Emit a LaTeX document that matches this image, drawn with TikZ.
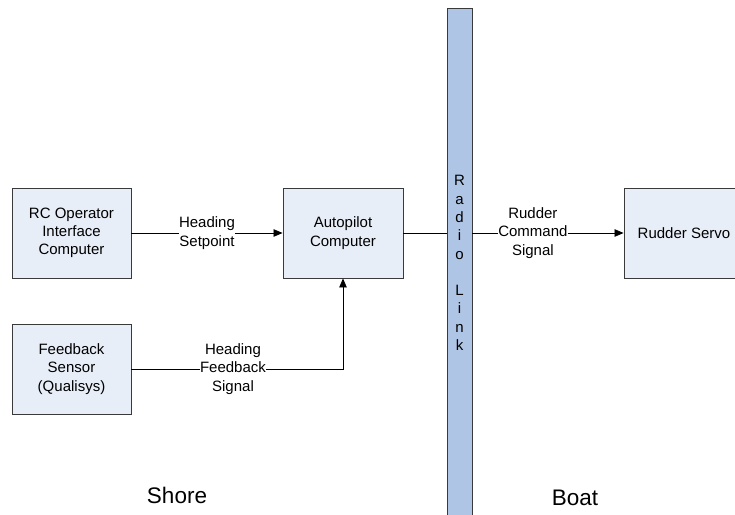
\documentclass[tikz,border=0pt]{standalone}
\usepackage{fontspec}
\setmainfont{Liberation Sans}
\usetikzlibrary{arrows.meta}
\definecolor{boxfill}{HTML}{E8EEF8}
\definecolor{barfill}{HTML}{AFC5E6}
\definecolor{edgecol}{HTML}{3A3A3A}
\newcommand{\fsnorm}{\fontsize{15}{18.3}\selectfont}
\newcommand{\fsbig}{\fontsize{22.5}{27}\selectfont}
\begin{document}
\begin{tikzpicture}[x=1pt,y=-1pt,
  blk/.style={draw=edgecol, fill=boxfill, line width=0.9pt, inner sep=0pt, align=center, font=\fsnorm, minimum width=119pt, minimum height=90pt},
  barstyle/.style={draw=edgecol, fill=barfill, line width=0.9pt, inner sep=0pt, minimum width=25pt, minimum height=520pt},
  bartext/.style={inner sep=0pt, align=center, font=\fsnorm},
  lbl/.style={fill=white, inner sep=0.5pt, align=center, font=\fsnorm},
  conn/.style={line width=0.8pt, draw=black},
  arr/.style={-{Triangle[length=9pt,width=7.5pt]}},
  region/.style={font=\fsbig, anchor=base}]
\useasboundingbox (0,0) rectangle (735,514);
\clip (0,0) rectangle (735,514);
\node[blk] (rc) at (71.5,233) {RC Operator\\Interface\\Computer};
\node[blk, minimum width=120pt] (ap) at (343,233) {Autopilot\\Computer};
\node[blk] (fb) at (71.5,369) {Feedback\\Sensor\\(Qualisys)};
\node[blk, minimum width=120pt] (servo) at (684,233) {Rudder Servo};
\node[barstyle] (bar) at (459.5,268) {};
\node[bartext] (radiotxt) at (459.5,263) {R\\a\\d\\i\\o\\\mbox{}\\L\\i\\n\\k};
\draw[conn,arr] (rc) -- node[lbl]{Heading\\Setpoint} (ap);
\draw[conn] (ap.east) -- (ap.east -| bar.west);
\draw[conn,arr] (bar.east |- servo.west) -- node[lbl,pos=0.4]{Rudder\\Command\\Signal} (servo.west);
\draw[conn,arr] (fb) -- node[lbl,pos=0.48]{Heading\\Feedback\\Signal} (ap.south |- fb) -- (ap.south);
\node[region] (shore) at (177,503) {Shore};
\node[region] (boat) at (575,505) {Boat};
\end{tikzpicture}
\end{document}
